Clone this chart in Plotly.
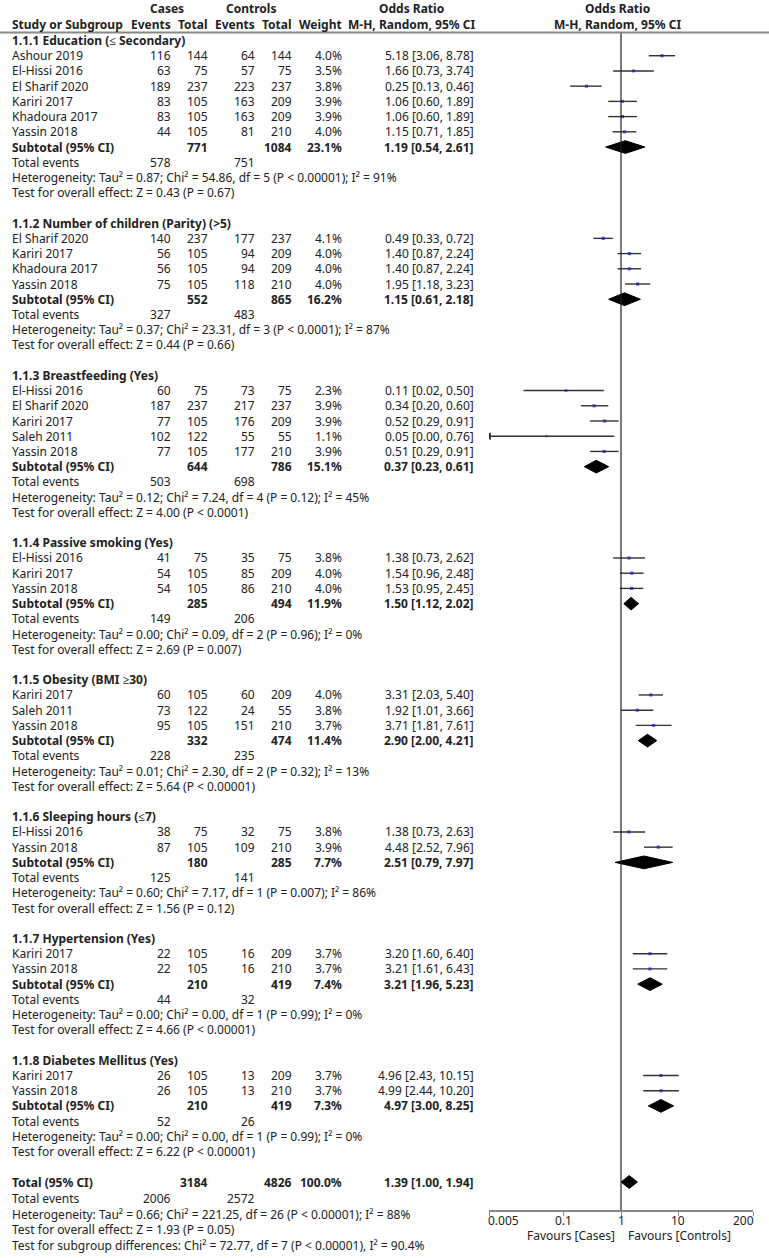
import math
import plotly.graph_objects as go

W, H = 769, 1258

# ---- study level data (all subgroups, in display order) ----
study_names = ["Ashour 2019", "El-Hissi 2016", "El Sharif 2020", "Kariri 2017", "Khadoura 2017", "Yassin 2018",
               "El Sharif 2020", "Kariri 2017", "Khadoura 2017", "Yassin 2018",
               "El-Hissi 2016", "El Sharif 2020", "Kariri 2017", "Saleh 2011", "Yassin 2018",
               "El-Hissi 2016", "Kariri 2017", "Yassin 2018",
               "Kariri 2017", "Saleh 2011", "Yassin 2018",
               "El-Hissi 2016", "Yassin 2018",
               "Kariri 2017", "Yassin 2018",
               "Kariri 2017", "Yassin 2018"]
study_group = [0, 0, 0, 0, 0, 0, 1, 1, 1, 1, 2, 2, 2, 2, 2, 3, 3, 3, 4, 4, 4, 5, 5, 6, 6, 7, 7]
cases_events = [116, 63, 189, 83, 83, 44, 140, 56, 56, 75, 60, 187, 77, 102, 77, 41, 54, 54,
                60, 73, 95, 38, 87, 22, 22, 26, 26]
cases_total = [144, 75, 237, 105, 105, 105, 237, 105, 105, 105, 75, 237, 105, 122, 105, 75, 105, 105,
               105, 122, 105, 75, 105, 105, 105, 105, 105]
ctrl_events = [64, 57, 223, 163, 163, 81, 177, 94, 94, 118, 73, 217, 176, 55, 177, 35, 85, 86,
               60, 24, 151, 32, 109, 16, 16, 13, 13]
ctrl_total = [144, 75, 237, 209, 209, 210, 237, 209, 209, 210, 75, 237, 209, 55, 210, 75, 209, 210,
              209, 55, 210, 75, 210, 209, 210, 209, 210]
weight = [4.0, 3.5, 3.8, 3.9, 3.9, 4.0, 4.1, 4.0, 4.0, 4.0, 2.3, 3.9, 3.9, 1.1, 3.9, 3.8, 4.0, 4.0,
          4.0, 3.8, 3.7, 3.8, 3.9, 3.7, 3.7, 3.7, 3.7]
or_est = [5.18, 1.66, 0.25, 1.06, 1.06, 1.15, 0.49, 1.40, 1.40, 1.95, 0.11, 0.34, 0.52, 0.05, 0.51,
          1.38, 1.54, 1.53, 3.31, 1.92, 3.71, 1.38, 4.48, 3.20, 3.21, 4.96, 4.99]
or_lo = [3.06, 0.73, 0.13, 0.60, 0.60, 0.71, 0.33, 0.87, 0.87, 1.18, 0.02, 0.20, 0.29, 0.00, 0.29,
         0.73, 0.96, 0.95, 2.03, 1.01, 1.81, 0.73, 2.52, 1.60, 1.61, 2.43, 2.44]
or_hi = [8.78, 3.74, 0.46, 1.89, 1.89, 1.85, 0.72, 2.24, 2.24, 3.23, 0.50, 0.60, 0.91, 0.76, 0.91,
         2.62, 2.48, 2.45, 5.40, 3.66, 7.61, 2.63, 7.96, 6.40, 6.43, 10.15, 10.20]

# ---- subgroup level data ----
group_titles = ["1.1.1 Education (≤ Secondary)", "1.1.2 Number of children (Parity) (&gt;5)",
                "1.1.3 Breastfeeding (Yes)", "1.1.4 Passive smoking (Yes)", "1.1.5 Obesity (BMI ≥30)",
                "1.1.6 Sleeping hours (≤7)", "1.1.7 Hypertension (Yes)", "1.1.8 Diabetes Mellitus (Yes)"]
sub_cases_total = [771, 552, 644, 285, 332, 180, 210, 210]
sub_ctrl_total = [1084, 865, 786, 494, 474, 285, 419, 419]
sub_weight = [23.1, 16.2, 15.1, 11.9, 11.4, 7.7, 7.4, 7.3]
sub_or = [1.19, 1.15, 0.37, 1.50, 2.90, 2.51, 3.21, 4.97]
sub_lo = [0.54, 0.61, 0.23, 1.12, 2.00, 0.79, 1.96, 3.00]
sub_hi = [2.61, 2.18, 0.61, 2.02, 4.21, 7.97, 5.23, 8.25]
te_cases = [578, 327, 503, 149, 228, 125, 44, 52]
te_ctrl = [751, 483, 698, 206, 235, 141, 32, 26]
heterogeneity = [
    "Tau² = 0.87; Chi² = 54.86, df = 5 (P &lt; 0.00001); I² = 91%",
    "Tau² = 0.37; Chi² = 23.31, df = 3 (P &lt; 0.0001); I² = 87%",
    "Tau² = 0.12; Chi² = 7.24, df = 4 (P = 0.12); I² = 45%",
    "Tau² = 0.00; Chi² = 0.09, df = 2 (P = 0.96); I² = 0%",
    "Tau² = 0.01; Chi² = 2.30, df = 2 (P = 0.32); I² = 13%",
    "Tau² = 0.60; Chi² = 7.17, df = 1 (P = 0.007); I² = 86%",
    "Tau² = 0.00; Chi² = 0.00, df = 1 (P = 0.99); I² = 0%",
    "Tau² = 0.00; Chi² = 0.00, df = 1 (P = 0.99); I² = 0%",
]
overall_z = ["Z = 0.43 (P = 0.67)", "Z = 0.44 (P = 0.66)", "Z = 4.00 (P &lt; 0.0001)",
             "Z = 2.69 (P = 0.007)", "Z = 5.64 (P &lt; 0.00001)", "Z = 1.56 (P = 0.12)",
             "Z = 4.66 (P &lt; 0.00001)", "Z = 6.22 (P &lt; 0.00001)"]

# ---- overall ----
total_cases, total_ctrl, total_weight = 3184, 4826, 100.0
total_or, total_lo, total_hi = 1.39, 1.00, 1.94
total_te_cases, total_te_ctrl = 2006, 2572
total_het = "Tau² = 0.66; Chi² = 221.25, df = 26 (P &lt; 0.00001); I² = 88%"
total_z = "Z = 1.93 (P = 0.05)"
subgroup_diff = "Chi² = 72.77, df = 7 (P &lt; 0.00001), I² = 90.4%"

tick_vals = [0.005, 0.1, 1, 10, 200]
tick_text = ["0.005", "0.1", "1", "10", "200"]

# layout in pixels: row i sits at y = ROW0 + ROWH * i
ROW0, ROWH = 40.5, 15.22
AXIS_PX = 1211
HEAD1_PX, HEAD2_PX, HLINE_PX = 8.8, 24.3, 32.5
FONT = "Noto Sans"
FS = 12
COL = "#222"

# right edges of the table columns (pixels)
X_NAME, X_CE, X_CT, X_XE, X_XT, X_W, X_OR = 11, 172, 209, 256, 293, 343, 475


def px2row(p):
    return (p - ROW0) / ROWH


annotations = []


def txt(xp, y, s, anchor="right", bold=False, size=FS):
    if bold:
        s = "<b>" + s + "</b>"
    annotations.append(dict(x=xp / W, xref="paper", y=y, yref="y", text=s, xanchor=anchor,
                            yanchor="middle", showarrow=False, borderpad=0,
                            font=dict(family=FONT, size=size, color=COL)))


def fmt_or(e, l, h):
    return f"{e:.2f} [{l:.2f}, {h:.2f}]"


# header
for xp, s in [(167, "Cases"), (251, "Controls"), (411, "Odds Ratio"), (617, "Odds Ratio")]:
    txt(xp, px2row(HEAD1_PX), s, "center", True)
txt(X_NAME, px2row(HEAD2_PX), "Study or Subgroup", "left", True)
for xp, s in [(X_CE, "Events"), (X_CT, "Total"), (X_XE, "Events"), (X_XT, "Total"), (X_W, "Weight")]:
    txt(xp, px2row(HEAD2_PX), s, "right", True)
txt(411, px2row(HEAD2_PX), "M-H, Random, 95% CI", "center", True)
txt(617, px2row(HEAD2_PX), "M-H, Random, 95% CI", "center", True)

study_y = []
diamonds = []
row = 0
k = 0
for g in range(len(group_titles)):
    txt(X_NAME, row, group_titles[g], "left", True)
    row += 1
    while k < len(study_names) and study_group[k] == g:
        txt(X_NAME, row, study_names[k], "left")
        txt(X_CE, row, str(cases_events[k]))
        txt(X_CT, row, str(cases_total[k]))
        txt(X_XE, row, str(ctrl_events[k]))
        txt(X_XT, row, str(ctrl_total[k]))
        txt(X_W, row, f"{weight[k]:.1f}%")
        txt(X_OR, row, fmt_or(or_est[k], or_lo[k], or_hi[k]))
        study_y.append(row)
        row += 1
        k += 1
    txt(X_NAME, row, "Subtotal (95% CI)", "left", True)
    txt(X_CT, row, str(sub_cases_total[g]), bold=True)
    txt(X_XT, row, str(sub_ctrl_total[g]), bold=True)
    txt(X_W, row, f"{sub_weight[g]:.1f}%", bold=True)
    txt(X_OR, row, fmt_or(sub_or[g], sub_lo[g], sub_hi[g]), bold=True)
    diamonds.append((row, sub_or[g], sub_lo[g], sub_hi[g]))
    row += 1
    txt(X_NAME, row, "Total events", "left")
    txt(X_CE, row, str(te_cases[g]))
    txt(X_XE, row, str(te_ctrl[g]))
    row += 1
    txt(X_NAME, row, "Heterogeneity: " + heterogeneity[g], "left")
    row += 1
    txt(X_NAME, row, "Test for overall effect: " + overall_z[g], "left")
    row += 2

# overall total
txt(X_NAME, row, "Total (95% CI)", "left", True)
txt(X_CT, row, str(total_cases), bold=True)
txt(X_XT, row, str(total_ctrl), bold=True)
txt(X_W, row, f"{total_weight:.1f}%", bold=True)
txt(X_OR, row, fmt_or(total_or, total_lo, total_hi), bold=True)
diamonds.append((row, total_or, total_lo, total_hi))
txt(X_NAME, row + 1.1, "Total events", "left")
txt(X_CE, row + 1.1, str(total_te_cases))
txt(X_XE, row + 1.1, str(total_te_ctrl))
txt(X_NAME, row + 2.15, "Heterogeneity: " + total_het, "left")
txt(X_NAME, row + 3.15, "Test for overall effect: " + total_z, "left")
txt(X_NAME, row + 4.2, "Test for subgroup differences: " + subgroup_diff, "left")

fig = go.Figure()

x_min = tick_vals[0]
# confidence interval lines
lx, ly = [], []
for y, lo, hi in zip(study_y, or_lo, or_hi):
    lx += [max(lo, x_min), hi, None]
    ly += [y, y, None]
fig.add_trace(go.Scatter(x=lx, y=ly, mode="lines", line=dict(color="#333", width=1.4),
                         hoverinfo="skip"))
# arrows for intervals that run off the scale
ax = [x_min for lo in or_lo if lo < x_min]
ay = [y for y, lo in zip(study_y, or_lo) if lo < x_min]
fig.add_trace(go.Scatter(x=ax, y=ay, mode="markers",
                         marker=dict(symbol="triangle-left", size=7, color="#222")))
# point estimates
fig.add_trace(go.Scatter(x=or_est, y=study_y, mode="markers",
                         marker=dict(symbol="square", size=[1.8 + 0.35 * w for w in weight],
                                     color="#1a1ac8", line=dict(width=0))))
# diamonds
for y, e, lo, hi in diamonds:
    fig.add_trace(go.Scatter(x=[lo, e, hi, e, lo], y=[y, y - 0.42, y, y + 0.42, y],
                             mode="lines", fill="toself", fillcolor="black",
                             line=dict(color="black", width=1)))
# line of no effect
fig.add_trace(go.Scatter(x=[1, 1], y=[px2row(HLINE_PX), px2row(AXIS_PX)], mode="lines",
                         line=dict(color="#222", width=1.2)))

# tick labels and favours labels
for v, t in zip(tick_vals, tick_text):
    anchor, shift = "center", 0
    if v == tick_vals[0]:
        anchor, shift = "left", -3
    elif v == tick_vals[-1]:
        anchor, shift = "right", 3
    annotations.append(dict(x=math.log10(v), xref="x", y=px2row(1220), yref="y", text=t,
                            xanchor=anchor, xshift=shift, yanchor="middle", showarrow=False,
                            font=dict(family=FONT, size=FS, color=COL)))
annotations.append(dict(x=0, xref="x", y=px2row(1235), yref="y", text="Favours [Cases]",
                        xanchor="right", xshift=-4, yanchor="middle", showarrow=False,
                        font=dict(family=FONT, size=FS, color=COL)))
annotations.append(dict(x=0, xref="x", y=px2row(1235), yref="y", text="Favours [Controls]",
                        xanchor="left", xshift=5, yanchor="middle", showarrow=False,
                        font=dict(family=FONT, size=FS, color=COL)))

fig.update_layout(
    width=W, height=H,
    margin=dict(l=0, r=0, t=0, b=0),
    paper_bgcolor="white", plot_bgcolor="white",
    showlegend=False,
    hovermode=False,
    annotations=annotations,
    shapes=[dict(type="line", xref="paper", yref="paper", x0=0, x1=1,
                 y0=1 - HLINE_PX / H, y1=1 - HLINE_PX / H,
                 line=dict(color="#888", width=2))],
    xaxis=dict(type="log", range=[math.log10(tick_vals[0]), math.log10(tick_vals[-1])],
               domain=[489 / W, 753 / W], anchor="free", position=(H - AXIS_PX) / H,
               showline=True, linecolor="#888", linewidth=2, ticks="outside", ticklen=4,
               tickcolor="#888", tickwidth=1, tickvals=tick_vals, showticklabels=False,
               showgrid=False, zeroline=False),
    yaxis=dict(range=[px2row(H), px2row(0)], domain=[0, 1], visible=False,
               showgrid=False, zeroline=False),
)

# the page body has a default 8px margin; drop it so the figure fills the window
fig.write_html("out.html", config={"displayModeBar": False},
               post_script="document.body.style.margin = '0';")
